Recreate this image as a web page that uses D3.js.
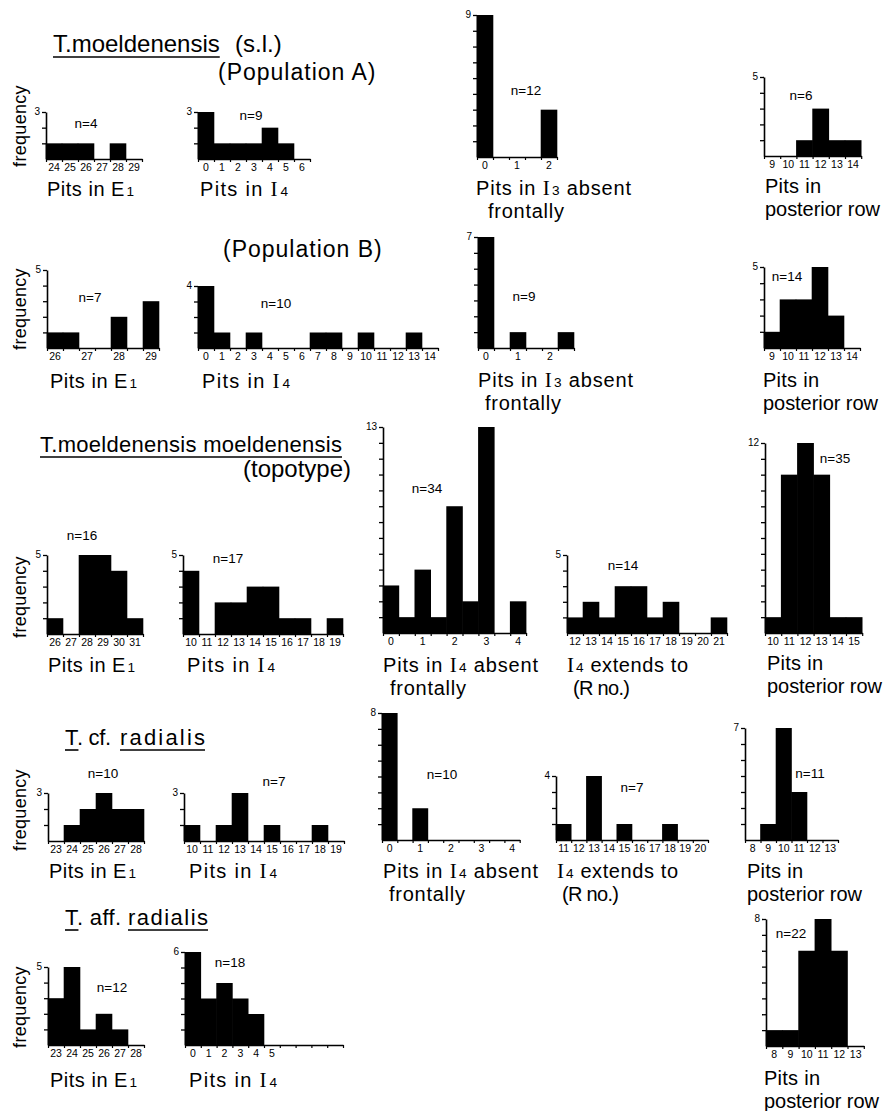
<!DOCTYPE html>
<html><head><meta charset="utf-8">
<script src="https://cdn.jsdelivr.net/npm/d3@7/dist/d3.min.js"></script>
<style>
body{margin:0;background:#fff}
svg{display:block}
text{font-family:"Liberation Sans",Arial,sans-serif;fill:#000}
</style>
</head><body>
<svg id="c" width="889" height="1111"></svg>
<script>
// ---------- DATA ----------
// Population A
const popA_E1_bins = ["24","25","26","27","28","29"];
const popA_E1_counts = [1,1,1,0,1,0];
const popA_I4_bins = ["0","1","2","3","4","5","6"];
const popA_I4_counts = [3,1,1,1,2,1,0];
const popA_I3abs_bins = ["0","","1","","2"];
const popA_I3abs_counts = [9,0,0,0,3];
const popA_post_bins = ["9","10","11","12","13","14"];
const popA_post_counts = [0,0,1,3,1,1];
// Population B
const popB_E1_bins = ["26","","27","","28","","29"];
const popB_E1_counts = [1,1,0,0,2,0,3];
const popB_I4_bins = ["0","1","2","3","4","5","6","7","8","9","10","11","12","13","14"];
const popB_I4_counts = [4,1,0,1,0,0,0,1,1,0,1,0,0,1,0];
const popB_I3abs_bins = ["0","","1","","2",""];
const popB_I3abs_counts = [7,0,1,0,0,1];
const popB_post_bins = ["9","10","11","12","13","14"];
const popB_post_counts = [1,3,3,5,2,0];
// T. moeldenensis moeldenensis (topotype)
const topo_E1_bins = ["26","27","28","29","30","31"];
const topo_E1_counts = [1,0,5,5,4,1];
const topo_I4_bins = ["10","11","12","13","14","15","16","17","18","19"];
const topo_I4_counts = [4,0,2,2,3,3,1,1,0,1];
const topo_I4abs_bins = ["0","","1","","2","","3","","4"];
const topo_I4abs_counts = [3,1,4,1,8,2,13,0,2];
const topo_I4ext_bins = ["12","13","14","15","16","17","18","19","20","21"];
const topo_I4ext_counts = [1,2,1,3,3,1,2,0,0,1];
const topo_post_bins = ["10","11","12","13","14","15"];
const topo_post_counts = [1,10,12,10,1,1];
// T. cf. radialis
const cf_E1_bins = ["23","24","25","26","27","28"];
const cf_E1_counts = [0,1,2,3,2,2];
const cf_I4_bins = ["10","11","12","13","14","15","16","17","18","19"];
const cf_I4_counts = [1,0,1,3,0,1,0,0,1,0];
const cf_I4abs_bins = ["0","","1","","2","","3","","4"];
const cf_I4abs_counts = [8,0,2,0,0,0,0,0,0];
const cf_I4ext_bins = ["11","12","13","14","15","16","17","18","19","20"];
const cf_I4ext_counts = [1,0,4,0,1,0,0,1,0,0];
const cf_post_bins = ["8","9","10","11","12","13"];
const cf_post_counts = [0,1,7,3,0,0];
// T. aff. radialis
const aff_E1_bins = ["23","24","25","26","27","28"];
const aff_E1_counts = [3,5,1,2,1,0];
const aff_I4_bins = ["0","1","2","3","4","5","","","",""];
const aff_I4_counts = [6,3,4,3,2,0,0,0,0,0];
const aff_post_bins = ["8","9","10","11","12","13"];
const aff_post_counts = [1,1,6,8,6,0];

// top y-axis tick labels and sample sizes, in panel order
const yTopLabels = [3,3,9,5, 5,4,7,5, 5,5,13,5,12, 3,3,8,4,7, 5,6,8];
const sampleN    = [4,9,12,6, 7,10,9,14, 16,17,34,14,35, 10,7,10,7,11, 12,18,22];

const panelBins = [popA_E1_bins,popA_I4_bins,popA_I3abs_bins,popA_post_bins,
  popB_E1_bins,popB_I4_bins,popB_I3abs_bins,popB_post_bins,
  topo_E1_bins,topo_I4_bins,topo_I4abs_bins,topo_I4ext_bins,topo_post_bins,
  cf_E1_bins,cf_I4_bins,cf_I4abs_bins,cf_I4ext_bins,cf_post_bins,
  aff_E1_bins,aff_I4_bins,aff_post_bins];
const panelCounts = [popA_E1_counts,popA_I4_counts,popA_I3abs_counts,popA_post_counts,
  popB_E1_counts,popB_I4_counts,popB_I3abs_counts,popB_post_counts,
  topo_E1_counts,topo_I4_counts,topo_I4abs_counts,topo_I4ext_counts,topo_post_counts,
  cf_E1_counts,cf_I4_counts,cf_I4abs_counts,cf_I4ext_counts,cf_post_counts,
  aff_E1_counts,aff_I4_counts,aff_post_counts];

const L_E1 = ["Pits in E_1"], L_I4 = ["Pits in I_4"];
const L_I3abs = ["Pits in I_3 absent","frontally"], L_I4abs = ["Pits in I_4 absent","frontally"];
const L_ext = ["I_4 extends to","(R no.)"], L_post = ["Pits in","posterior row"];

// ---------- LAYOUT (positions / sizes only) ----------
const captionWidth = {"Pits in E_1":87, "Pits in I_4":88, "Pits in I_3 absent":155, "Pits in I_4 absent":155,
  "frontally":76, "I_4 extends to":121, "(R no.)":57, "Pits in":56, "posterior row":115};

const layout = [
 {x0:46, bw:16, base:159, top:112, nx:86, ny:123, lab:L_E1, lx:47, ly:196},
 {x0:198, bw:16, base:159, top:112, nx:251, ny:115, lab:L_I4, lx:200, ly:196},
 {x0:477, bw:16, base:157, top:15, nx:526, ny:90, lab:L_I3abs, lx:476, ly:195, lx2:488},
 {x0:764, bw:16.2, base:156, top:77, nx:801, ny:95, lab:L_post, lx:765, ly:193},
 {x0:47, bw:16, base:348, top:270, nx:90, ny:297, lab:L_E1, lx:50, ly:388},
 {x0:198, bw:16, base:348, top:286, nx:276, ny:303, lab:L_I4, lx:202, ly:388},
 {x0:478, bw:16, base:348, top:237, nx:524, ny:296, lab:L_I3abs, lx:478, ly:387, lx2:485},
 {x0:764, bw:16, base:348, top:267, nx:787, ny:276, lab:L_post, lx:763, ly:387},
 {x0:47, bw:16, base:634, top:555, nx:82, ny:535, lab:L_E1, lx:48, ly:672},
 {x0:183, bw:16, base:634, top:555, nx:228, ny:558, lab:L_I4, lx:187, ly:672},
 {x0:383, bw:15.9, base:633, top:427, nx:427, ny:488, lab:L_I4abs, lx:383, ly:672, lx2:390},
 {x0:567, bw:16, base:633, top:555, nx:623, ny:565, lab:L_ext, lx:567, ly:672, lx2:573},
 {x0:765, bw:16.2, base:633, top:443, nx:835, ny:458, lab:L_post, lx:767, ly:670},
 {x0:48, bw:16, base:841, top:793, nx:103, ny:773, lab:L_E1, lx:49, ly:878},
 {x0:184, bw:16, base:841, top:793, nx:274, ny:781, lab:L_I4, lx:189, ly:878},
 {x0:382, bw:15.3, base:840, top:713, nx:442, ny:774, lab:L_I4abs, lx:383, ly:878, lx2:389},
 {x0:556, bw:15.2, base:840, top:776, nx:632, ny:787, lab:L_ext, lx:557, ly:878, lx2:562},
 {x0:745, bw:15.5, base:840, top:728, nx:810, ny:773, lab:L_post, lx:747, ly:878},
 {x0:48, bw:16, base:1045, top:967, nx:112, ny:987, lab:L_E1, lx:50, ly:1087},
 {x0:185, bw:15.8, base:1045, top:952, nx:230, ny:962, lab:L_I4, lx:189, ly:1087},
 {x0:766, bw:16.3, base:1046, top:919, nx:791, ny:933, lab:L_post, lx:764, ly:1085}
];

const svg = d3.select("#c");
svg.append("rect").attr("width",889).attr("height",1111).attr("fill","#fff");

function rich(g, x, y, str, size){
  const t = g.append("text").attr("x",x).attr("y",y).attr("font-size",size);
  const re = /([EI])_(\d)/g; let last = 0, m;
  while((m = re.exec(str))){
    if(m.index > last) t.append("tspan").text(str.slice(last, m.index));
    const main = t.append("tspan").text(m[1]);
    if(m[1] === "I") main.attr("font-family","'Liberation Serif','Times New Roman',serif").attr("font-size", size*1.05);
    t.append("tspan").text(m[2]).attr("font-size", size*0.68).attr("dx", 1.5);
    last = re.lastIndex;
  }
  if(last < str.length) t.append("tspan").text(str.slice(last));
  if(captionWidth[str]) t.attr("textLength", captionWidth[str]).attr("lengthAdjust","spacing");
  return t;
}

layout.forEach((p, k) => {
  const bins = panelBins[k], counts = panelCounts[k], yMax = yTopLabels[k];
  const nb = bins.length;
  const g = svg.append("g");
  const x = d3.scaleBand().domain(d3.range(nb)).range([p.x0, p.x0 + nb*p.bw]).padding(0);
  const xe = d3.scaleLinear().domain([0, nb]).range([p.x0, p.x0 + nb*p.bw]);
  const y = d3.scaleLinear().domain([0, yMax]).range([p.base, p.top]);

  g.selectAll("rect.bar").data(counts).join("rect")
    .attr("class","bar")
    .attr("x", (d,i) => x(i) - 0.3)
    .attr("width", x.bandwidth() + 0.6)
    .attr("y", d => y(d))
    .attr("height", d => y(0) - y(d))
    .attr("fill", "#000");

  // y axis
  const ya = g.append("g").attr("transform", `translate(${p.x0},0)`)
    .call(d3.axisLeft(y).tickValues(d3.range(1, yMax+1))
      .tickFormat(d => d === yMax ? d : "").tickSize(4).tickSizeOuter(0).tickPadding(2));
  ya.select(".domain").attr("stroke-width",1.6);
  ya.selectAll(".tick line").attr("stroke-width",1.3);
  ya.selectAll("text").attr("font-size",10).attr("font-family","'Liberation Sans',Arial,sans-serif").attr("dy","0.2em");

  // x axis: edge ticks
  const xa = g.append("g").attr("transform", `translate(0,${p.base})`)
    .call(d3.axisBottom(xe).tickValues(d3.range(nb+1)).tickFormat("").tickSize(3).tickSizeOuter(0));
  xa.select(".domain").attr("stroke-width",1.6);
  xa.selectAll(".tick line").attr("stroke-width",1.2);
  // x axis: category labels
  const xl = g.append("g").attr("transform", `translate(0,${p.base})`)
    .call(d3.axisBottom(x).tickFormat(i => bins[i]).tickSize(0).tickPadding(5));
  xl.select(".domain").remove();
  xl.selectAll("text").attr("font-size",10.5).attr("font-family","'Liberation Sans',Arial,sans-serif");

  // n label
  g.append("text").attr("x", p.nx).attr("y", p.ny + 5).attr("text-anchor","middle")
    .attr("font-size",13.5).text("n=" + sampleN[k]);

  // axis caption (two lines where needed)
  rich(g, p.lx, p.ly, p.lab[0], 20);
  if(p.lab[1]) rich(g, p.lx2 !== undefined ? p.lx2 : p.lx, p.ly + 22.5, p.lab[1], 20);
});

// frequency labels
[126, 309, 597, 810, 1007].forEach(cy => {
  svg.append("text").attr("transform", `translate(26,${cy}) rotate(-90)`)
    .attr("text-anchor","middle").attr("font-size",18).attr("letter-spacing",0.3).text("frequency");
});

// titles
function piece(x, y, txt, size, underline, opts={}){
  const t = svg.append("text").attr("x",x).attr("y",y).attr("font-size",size).text(txt);
  if(opts.ls) t.attr("letter-spacing", opts.ls);
  if(opts.len) t.attr("textLength", opts.len).attr("lengthAdjust","spacing");
  if(underline){
    const bb = t.node().getBBox();
    svg.append("line").attr("x1",bb.x).attr("x2",bb.x + (opts.len || bb.width))
      .attr("y1", y + 5).attr("y2", y + 5).attr("stroke","#000").attr("stroke-width",1.6);
  }
  return t;
}
piece(53, 52, "T.moeldenensis", 24, true);
piece(235, 52, "(s.l.)", 24, false);
piece(218, 80, "(Population A)", 23, false, {ls:1});
piece(223, 257, "(Population B)", 23, false, {ls:1});
piece(40, 452, "T.moeldenensis moeldenensis", 22, true, {len:302});
piece(243, 477, "(topotype)", 24, false);
piece(65, 745, "T", 22, true);
piece(77, 745, ". cf.", 22, false, {len:34});
piece(120, 745, "radialis", 22, true, {len:85});
piece(65, 925, "T", 22, true);
piece(77, 925, ". aff.", 22, false, {len:44});
piece(128, 925, "radialis", 22, true, {len:80});
</script>
</body></html>
